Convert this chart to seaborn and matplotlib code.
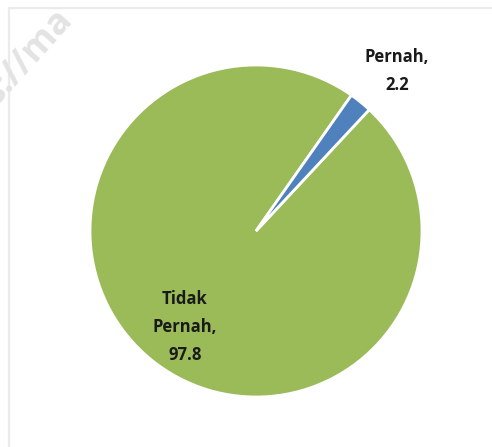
import matplotlib
matplotlib.use("Agg")
import matplotlib.pyplot as plt
import seaborn as sns

# Survey share (%)
categories = ["Tidak Pernah", "Pernah"]
values = [97.8, 2.2]
slice_colors = ["#9BBB59", "#4F81BD"]

sns.set_theme(style="white")
plt.rcParams["font.family"] = ["Open Sans", "DejaVu Sans"]

W, H = 492, 447
fig = plt.figure(figsize=(W / 100, H / 100), dpi=100)
ax = fig.add_axes([0, 0, 1, 1])


def px(x, y):
    """Pixel position measured from the top-left corner -> data coords."""
    return x, H - y


# light frame around the chart area
fx, fy = zip(px(9, H + 5), px(9, 8), px(W + 5, 8))
ax.plot(fx, fy, color="#ebebeb", lw=1.6, solid_joinstyle="miter", zorder=0)

# faint watermark in the upper-left corner
ax.text(*px(-4, 106), "s://ma", rotation=48, fontsize=26, fontweight="bold",
        color="#e3e3e3", ha="left", va="baseline", rotation_mode="anchor",
        zorder=0)

cx, cy = px(256, 231)
r = 166
wedges, _ = ax.pie(
    values,
    colors=slice_colors,
    startangle=54.9,
    counterclock=True,
    radius=r,
    center=(cx, cy),
    frame=True,
    wedgeprops=dict(edgecolor="white", linewidth=2.0),
)
ax.set_xlim(0, W)
ax.set_ylim(0, H)
ax.set_aspect("equal")
ax.axis("off")

label_pos = {"Tidak Pernah": (185, 327), "Pernah": (397, 71)}
label_text = {"Tidak Pernah": "Tidak\nPernah,\n{v}", "Pernah": "Pernah,\n{v}"}
for cat, val in zip(categories, values):
    ax.text(*px(*label_pos[cat]), label_text[cat].format(v=val),
            ha="center", va="center", fontsize=12, fontweight="bold",
            color="#1a1a1a", linespacing=1.75)

fig.savefig("out.png", dpi=100)
